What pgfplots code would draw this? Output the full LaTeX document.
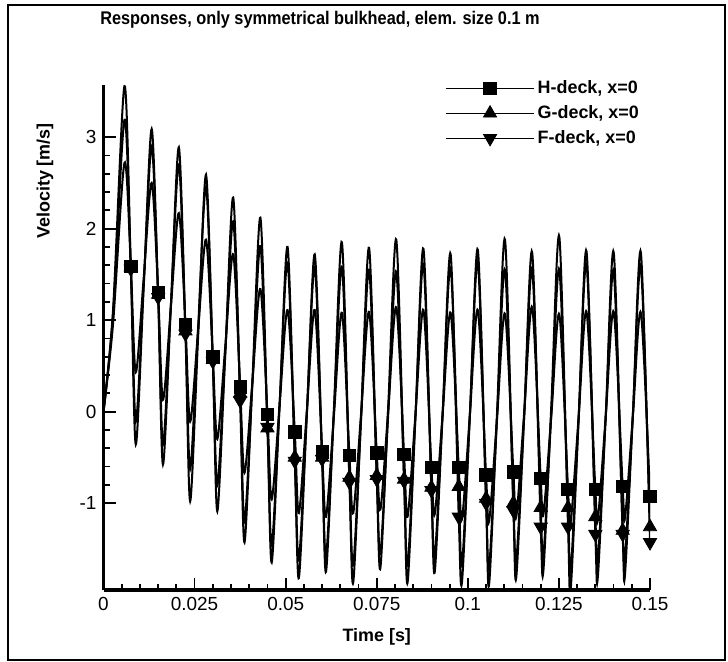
\documentclass[border=0pt]{standalone}
\usepackage{fontspec}
\setmainfont{Liberation Sans}
\usepackage{graphicx}
\usepackage{pgfplots}
\pgfplotsset{compat=1.18}
\usepackage{pgfplotstable}

% F-deck (outer curve)
\pgfplotstableread{
x y
0 0
0.0026 1.1
0.00576 3.56
0.0075 1.56
0.00886 -0.36
0.01104 1.365
0.01322 3.09
0.015 1.25
0.01632 -0.58
0.0185 1.155
0.02068 2.89
0.0225 0.85
0.02378 -0.98
0.02596 0.805
0.02814 2.59
0.03 0.55
0.03124 -1.09
0.03342 0.625
0.0356 2.34
0.0375 0.12
0.0387 -1.43
0.04088 0.345
0.04306 2.12
0.045 -0.17
0.04616 -1.65
0.04834 0.075
0.05052 1.80
0.0525 -0.54
0.05362 -1.82
0.0558 -0.05
0.05798 1.72
0.06 -0.52
0.06108 -1.75
0.06326 0.05
0.06544 1.85
0.0675 -0.77
0.06854 -1.87
0.07072 -0.04
0.0729 1.79
0.075 -0.74
0.076 -1.71
0.07818 0.085
0.08036 1.88
0.0825 -0.76
0.08346 -1.87
0.08564 -0.045
0.08782 1.78
0.09 -0.86
0.09092 -1.75
0.0931 -0.015
0.09528 1.72
0.0975 -1.15
0.09838 -1.87
0.10056 -0.05
0.10274 1.77
0.105 -1.00
0.10584 -1.89
0.10802 -0.005
0.1102 1.88
0.1125 -1.08
0.1133 -1.81
0.11548 -0.035
0.11766 1.74
0.12 -1.26
0.12076 -1.73
0.12294 0.09
0.12512 1.91
0.1275 -1.26
0.12822 -1.95
0.1304 -0.1
0.13258 1.75
0.135 -1.34
0.13568 -1.81
0.13786 -0.035
0.14004 1.74
0.1425 -1.34
0.14314 -1.78
0.14532 -0.02
0.1475 1.74
0.15 -1.43
}\curveF

% G-deck
\pgfplotstableread{
x y
0 0
0.0026 1.05
0.00576 3.19
0.0075 1.58
0.00886 -0.11
0.01104 1.395
0.01322 2.90
0.015 1.28
0.01632 -0.36
0.0185 1.17
0.02068 2.70
0.0225 0.88
0.02378 -0.63
0.02596 0.915
0.02814 2.46
0.03 0.57
0.03124 -0.80
0.03342 0.64
0.0356 2.08
0.0375 0.20
0.0387 -1.20
0.04088 0.305
0.04306 1.81
0.045 -0.18
0.04616 -1.47
0.04834 0.08
0.05052 1.63
0.0525 -0.50
0.05362 -1.62
0.0558 -0.02
0.05798 1.58
0.06 -0.50
0.06108 -1.58
0.06326 0
0.06544 1.58
0.0675 -0.72
0.06854 -1.68
0.07072 -0.065
0.0729 1.55
0.075 -0.70
0.076 -1.55
0.07818 -0.01
0.08036 1.53
0.0825 -0.74
0.08346 -1.68
0.08564 -0.035
0.08782 1.61
0.09 -0.83
0.09092 -1.58
0.0931 -0.005
0.09528 1.57
0.0975 -0.82
0.09838 -1.68
0.10056 -0.025
0.10274 1.63
0.105 -0.95
0.10584 -1.70
0.10802 -0.075
0.1102 1.55
0.1125 -1.00
0.1133 -1.63
0.11548 -0.04
0.11766 1.55
0.12 -1.05
0.12076 -1.56
0.12294 -0.005
0.12512 1.55
0.1275 -1.05
0.12822 -1.75
0.1304 -0.07
0.13258 1.61
0.135 -1.15
0.13568 -1.63
0.13786 -0.05
0.14004 1.53
0.1425 -1.30
0.14314 -1.60
0.14532 -0.01
0.1475 1.58
0.15 -1.26
}\curveG

% H-deck (inner curve)
\pgfplotstableread{
x y
0 0
0.0026 0.95
0.00576 2.72
0.0075 1.59
0.00886 0.43
0.01104 1.465
0.01322 2.50
0.015 1.30
0.01632 0.13
0.0185 1.15
0.02068 2.17
0.0225 0.95
0.02378 -0.11
0.02596 0.885
0.02814 1.88
0.03 0.60
0.03124 -0.30
0.03342 0.71
0.0356 1.72
0.0375 0.27
0.0387 -0.67
0.04088 0.335
0.04306 1.34
0.045 -0.03
0.04616 -0.96
0.04834 0.075
0.05052 1.11
0.0525 -0.22
0.05362 -1.11
0.0558 0
0.05798 1.11
0.06 -0.44
0.06108 -1.15
0.06326 -0.035
0.06544 1.08
0.0675 -0.48
0.06854 -1.11
0.07072 -0.01
0.0729 1.09
0.075 -0.45
0.076 -1.07
0.07818 0.035
0.08036 1.14
0.0825 -0.47
0.08346 -1.15
0.08564 -0.02
0.08782 1.11
0.09 -0.61
0.09092 -1.12
0.0931 -0.02
0.09528 1.08
0.0975 -0.61
0.09838 -1.18
0.10056 -0.035
0.10274 1.11
0.105 -0.69
0.10584 -1.20
0.10802 -0.065
0.1102 1.07
0.1125 -0.66
0.1133 -1.15
0.11548 -0.005
0.11766 1.14
0.12 -0.73
0.12076 -1.12
0.12294 -0.03
0.12512 1.06
0.1275 -0.85
0.12822 -1.22
0.1304 -0.065
0.13258 1.09
0.135 -0.85
0.13568 -1.18
0.13786 -0.045
0.14004 1.09
0.1425 -0.82
0.14314 -1.16
0.14532 -0.04
0.1475 1.08
0.15 -0.93
}\curveH

\begin{document}
\begin{tikzpicture}
\useasboundingbox (0,0) rectangle (364bp,331bp);
\draw[line width=0.8bp] (4bp,1bp) rectangle (362.5bp,328.5bp);
\node[font=\bfseries\fontsize{9.2}{11}\selectfont] at (160bp,321bp) {\scalebox{0.89}[1]{Responses, only symmetrical bulkhead, elem. size 0.1 m}};
\begin{axis}[
  at={(51.75bp,36bp)}, anchor=south west,
  width=273.25bp, height=252.5bp, scale only axis,
  xmin=0, xmax=0.15, ymin=-1.95, ymax=3.57,
  axis x line*=bottom, axis y line*=left,
  axis line style={line width=1.6bp, -},
  tick align=inside,
  xtick={0,0.025,0.05,0.075,0.1,0.125,0.15},
  xticklabels={0,0.025,0.05,0.075,0.1,0.125,0.15},
  ytick={-1,0,1,2,3},
  yticklabels={-1,0,1,2,3},
  scaled x ticks=false,
  minor x tick num=4, minor y tick num=4,
  major tick length=6bp, minor tick length=3bp,
  tick style={black, line width=0.9bp},
  tick label style={font=\fontsize{9.5}{11}\selectfont},
  xlabel={Time [s]}, ylabel={Velocity [m/s]},
  label style={font=\bfseries\fontsize{9}{11}\selectfont},
  xlabel style={at={(axis description cs:0.5,-0.093)}, anchor=center},
  ylabel style={at={(axis description cs:-0.107,0.81)}, anchor=center},
  legend style={draw=none, fill=none, at={(axis description cs:0.625,1.016)}, anchor=north west,
    font=\bfseries\fontsize{9}{11}\selectfont, row sep=1.5bp, inner sep=0pt,
    nodes={inner sep=1.5bp}},
  legend cell align=left,
  legend image code/.code={\draw[line width=0.6bp,black] (0bp,0bp) -- (44bp,0bp); \draw[#1, mark indices={1}] plot coordinates {(22bp,0bp)};},
  clip=true,
]
\addplot[black, line width=1bp, smooth, tension=0.5, forget plot] table {\curveF};
\addplot[black, line width=1bp, smooth, tension=0.5, forget plot] table {\curveG};
\addplot[black, line width=1bp, smooth, tension=0.5, forget plot] table {\curveH};
\addplot[black, only marks, mark=square*, mark size=3.1bp, mark indices={4,8,12,16,20,24,28,32,36,40,44,48,52,56,60,64,68,72,76,80}] table {\curveH};
\addlegendentry{H-deck, x=0}
\addplot[black, only marks, mark=triangle*, mark size=3.8bp, mark indices={4,8,12,16,20,24,28,32,36,40,44,48,52,56,60,64,68,72,76,80}] table {\curveG};
\addlegendentry{G-deck, x=0}
\addplot[black, only marks, mark=triangle*, mark size=3.8bp, mark options={rotate=180}, mark indices={4,8,12,16,20,24,28,32,36,40,44,48,52,56,60,64,68,72,76,80}] table {\curveF};
\addlegendentry{F-deck, x=0}
\end{axis}
\end{tikzpicture}
\end{document}
